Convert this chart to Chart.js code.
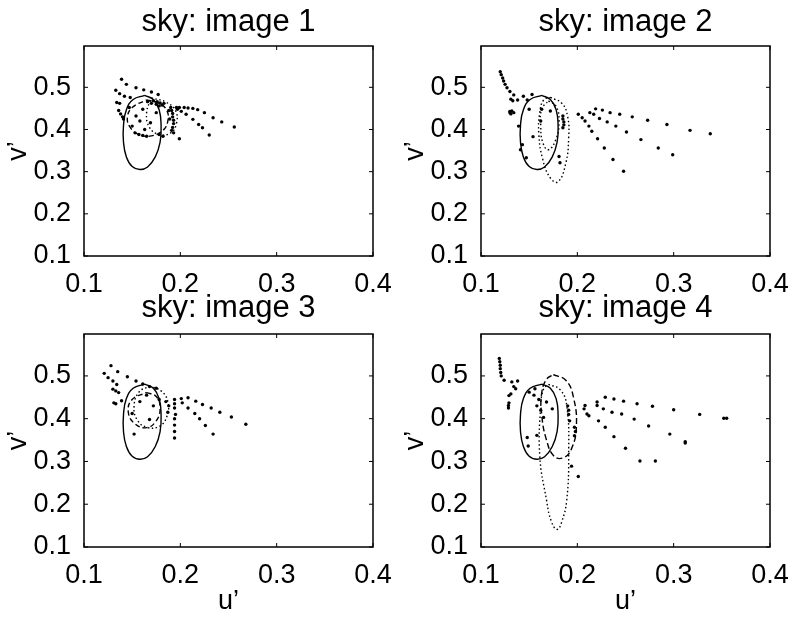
<!DOCTYPE html>
<html>
<head>
<meta charset="utf-8">
<script src="https://cdn.jsdelivr.net/npm/chart.js@4.4.1/dist/chart.umd.min.js"></script>
<style>
  body { margin: 0; background: #fff; }
  #wrap { position: relative; width: 794px; height: 618px; background: #fff; }
  canvas { position: absolute; }
</style>
</head>
<body>
<div id="wrap">
  <canvas id="c1" width="397" height="300" style="left:0;top:0;width:397px;height:300px"></canvas>
  <canvas id="c2" width="397" height="300" style="left:397px;top:0;width:397px;height:300px"></canvas>
  <canvas id="c3" width="397" height="338" style="left:0;top:280px;width:397px;height:338px"></canvas>
  <canvas id="c4" width="397" height="338" style="left:397px;top:280px;width:397px;height:338px"></canvas>
</div>
<script>
// axis ticks
const uTicks = [0.1, 0.2, 0.3, 0.4];
const vTicks = [0.1, 0.2, 0.3, 0.4, 0.5];
const titles = ['sky: image 1', 'sky: image 2', 'sky: image 3', 'sky: image 4'];

// solid locus, same in every panel  [u', v']
const refLocus = [[0.163,0.481],[0.172,0.471],[0.178,0.447],[0.180,0.410],[0.179,0.370],[0.174,0.335],
  [0.166,0.311],[0.158,0.305],[0.150,0.312],[0.144,0.335],[0.141,0.370],[0.141,0.410],[0.144,0.447],
  [0.151,0.471],[0.163,0.481]];

// image 1
const sky1Dots = [[0.139,0.519],[0.144,0.507],[0.154,0.499],[0.162,0.494],[0.170,0.489],[0.177,0.483],
  [0.133,0.493],[0.137,0.485],[0.142,0.479],[0.148,0.476],[0.134,0.464],[0.137,0.462],[0.136,0.445],
  [0.138,0.437],[0.141,0.425],[0.140,0.430],
  [0.196,0.452],[0.199,0.452],[0.204,0.452],[0.208,0.451],[0.213,0.450],[0.218,0.447],[0.225,0.440],
  [0.234,0.428],[0.243,0.418],[0.256,0.406],
  [0.197,0.448],[0.201,0.443],[0.206,0.436],[0.213,0.424],[0.219,0.412],[0.223,0.404],[0.230,0.387],
  [0.190,0.452],[0.191,0.445],[0.192,0.438],[0.192,0.430],[0.193,0.422],[0.193,0.414],[0.192,0.405],
  [0.191,0.398],[0.193,0.392],[0.188,0.445],[0.189,0.425],
  [0.172,0.468],[0.176,0.466],[0.179,0.463],[0.181,0.458],[0.178,0.456],[0.175,0.460],[0.183,0.462],
  [0.170,0.462],[0.166,0.466],
  [0.154,0.432],[0.161,0.448],[0.150,0.408],[0.169,0.416],[0.175,0.440],[0.158,0.420],[0.163,0.400],
  [0.147,0.452],[0.199,0.378],[0.182,0.384],[0.178,0.388],
  [0.153,0.392],[0.157,0.388],[0.161,0.386],[0.165,0.384]];
const sky1Dashed = [[0.165,0.470],[0.178,0.462],[0.186,0.445],[0.187,0.420],[0.182,0.398],[0.170,0.385],
  [0.157,0.388],[0.148,0.405],[0.145,0.428],[0.150,0.452],[0.165,0.470]];
const sky1Dotted = [[0.170,0.475],[0.185,0.465],[0.195,0.445],[0.196,0.415],[0.190,0.392],[0.178,0.388],
  [0.168,0.405],[0.165,0.440],[0.170,0.475]];

// image 2
const sky2Dots = [[0.120,0.537],[0.121,0.530],[0.1225,0.522],[0.1235,0.515],[0.125,0.507],[0.127,0.499],
  [0.130,0.490],[0.134,0.482],[0.131,0.472],[0.133,0.468],[0.138,0.470],[0.130,0.440],[0.131,0.437],
  [0.134,0.440],[0.144,0.479],[0.153,0.483],[0.148,0.470],
  [0.201,0.436],[0.205,0.428],[0.208,0.420],[0.212,0.408],[0.215,0.396],[0.221,0.378],[0.228,0.356],
  [0.237,0.329],[0.248,0.301],
  [0.213,0.440],[0.219,0.449],[0.226,0.446],[0.234,0.440],[0.244,0.436],[0.257,0.430],[0.273,0.422],
  [0.293,0.412],[0.317,0.398],[0.338,0.390],
  [0.217,0.436],[0.223,0.426],[0.231,0.418],[0.240,0.408],[0.251,0.394],[0.266,0.376],[0.284,0.356],
  [0.299,0.340],
  [0.143,0.364],[0.147,0.333],[0.154,0.383],[0.162,0.420],[0.163,0.448],[0.150,0.448],[0.181,0.336],
  [0.182,0.321],[0.172,0.444],[0.139,0.408],[0.141,0.352],[0.132,0.444],[0.130,0.443],
  [0.185,0.432],[0.185,0.425],[0.186,0.418],[0.186,0.411],[0.185,0.404]];
const sky2Dotted = [[0.172,0.476],[0.184,0.462],[0.190,0.430],[0.191,0.380],[0.188,0.320],[0.180,0.276],
  [0.172,0.285],[0.164,0.330],[0.160,0.390],[0.161,0.440],[0.165,0.470],[0.172,0.476]];
const sky2Inner = [[0.170,0.468],[0.178,0.455],[0.181,0.420],[0.178,0.378],[0.170,0.352],[0.164,0.370],
  [0.162,0.410],[0.163,0.448],[0.170,0.468]];

// image 3
const sky3Dots = [[0.128,0.524],[0.135,0.510],[0.145,0.498],[0.154,0.488],[0.161,0.481],[0.168,0.475],
  [0.175,0.471],[0.121,0.506],[0.125,0.496],[0.130,0.488],[0.134,0.480],[0.130,0.469],[0.133,0.465],
  [0.136,0.461],[0.131,0.437],[0.133,0.435],[0.139,0.442],
  [0.201,0.447],[0.208,0.449],[0.216,0.441],[0.223,0.433],[0.232,0.425],[0.241,0.415],[0.253,0.404],
  [0.268,0.387],
  [0.202,0.437],[0.208,0.425],[0.215,0.412],[0.220,0.400],[0.226,0.384],[0.234,0.364],
  [0.194,0.445],[0.194,0.435],[0.194,0.425],[0.195,0.410],[0.194,0.400],[0.194,0.385],[0.194,0.370],
  [0.194,0.355],
  [0.152,0.364],[0.158,0.440],[0.165,0.455],[0.172,0.430],[0.178,0.445],[0.150,0.412],[0.168,0.398],
  [0.185,0.440],[0.188,0.430],[0.187,0.415]];
const sky3Dashed = [[0.165,0.461],[0.175,0.452],[0.179,0.425],[0.175,0.395],[0.165,0.379],[0.153,0.388],
  [0.146,0.415],[0.150,0.445],[0.165,0.461]];
const sky3Dotted = [[0.168,0.476],[0.180,0.465],[0.187,0.440],[0.186,0.405],[0.178,0.382],[0.165,0.380],
  [0.155,0.398],[0.152,0.430],[0.157,0.462],[0.168,0.476]];

// image 4
const sky4Dots = [[0.119,0.541],[0.1195,0.533],[0.120,0.525],[0.120,0.517],[0.1205,0.508],[0.121,0.500],
  [0.124,0.490],[0.132,0.486],[0.138,0.488],[0.134,0.475],[0.136,0.470],
  [0.1285,0.431],[0.1285,0.425],[0.129,0.437],[0.129,0.454],[0.131,0.458],
  [0.208,0.431],[0.2205,0.439],[0.229,0.450],[0.238,0.446],[0.248,0.441],[0.262,0.435],[0.278,0.429],
  [0.300,0.421],[0.327,0.410],[0.352,0.401],[0.355,0.401],
  [0.210,0.411],[0.2205,0.431],[0.227,0.423],[0.236,0.415],[0.246,0.411],[0.259,0.399],[0.274,0.383],
  [0.296,0.364],[0.312,0.346],[0.312,0.343],
  [0.207,0.423],[0.212,0.407],[0.222,0.395],[0.229,0.380],[0.238,0.358],[0.250,0.331],[0.265,0.301],
  [0.281,0.301],[0.194,0.289],[0.201,0.265],
  [0.149,0.336],[0.148,0.356],[0.158,0.361],[0.165,0.403],[0.168,0.439],[0.174,0.423],[0.155,0.455],
  [0.160,0.445],[0.158,0.430],[0.162,0.420],[0.156,0.470],[0.150,0.462],
  [0.190,0.430],[0.191,0.420],[0.191,0.410],[0.192,0.395],[0.197,0.380],[0.198,0.370],[0.197,0.360]];
const sky4Dashed = [[0.175,0.503],[0.188,0.490],[0.196,0.450],[0.199,0.380],[0.194,0.330],[0.186,0.309],
  [0.176,0.312],[0.168,0.350],[0.163,0.410],[0.163,0.460],[0.168,0.492],[0.175,0.503]];
const sky4Dotted = [[0.170,0.480],[0.182,0.468],[0.189,0.431],[0.191,0.313],[0.189,0.210],[0.184,0.160],
  [0.179,0.141],[0.173,0.160],[0.168,0.210],[0.161,0.313],[0.162,0.430],[0.165,0.470],[0.170,0.480]];

const FONT = '"Liberation Sans", Arial, Helvetica, sans-serif';
const toXY = arr => arr.map(p => ({ x: p[0], y: p[1] }));

function curve(points, dash, width) {
  return {
    type: 'scatter', data: toXY(points), showLine: true, tension: 0.45,
    borderColor: '#000', borderWidth: width || 1.4, borderDash: dash, pointRadius: 0, fill: false
  };
}
function dots(points) {
  return {
    type: 'scatter', data: toXY(points), showLine: false,
    pointRadius: 1.7, pointBackgroundColor: '#000', pointBorderWidth: 0
  };
}

// frame box + inward ticks, MATLAB style
const boxPlugin = {
  id: 'box',
  afterDraw(chart) {
    const { ctx, chartArea: a, scales } = chart;
    ctx.save();
    ctx.strokeStyle = '#000';
    ctx.lineWidth = 1.5;
    ctx.strokeRect(a.left, a.top, a.right - a.left, a.bottom - a.top);
    ctx.lineWidth = 1;
    ctx.beginPath();
    uTicks.forEach(t => {
      const x = scales.x.getPixelForValue(t);
      ctx.moveTo(x, a.bottom); ctx.lineTo(x, a.bottom - 4);
      ctx.moveTo(x, a.top); ctx.lineTo(x, a.top + 4);
    });
    vTicks.forEach(t => {
      const y = scales.y.getPixelForValue(t);
      ctx.moveTo(a.left, y); ctx.lineTo(a.left + 4, y);
      ctx.moveTo(a.right, y); ctx.lineTo(a.right - 4, y);
    });
    ctx.stroke();
    ctx.restore();
  }
};

function makeChart(id, title, datasets, bottomRow) {
  const ctx = document.getElementById(id).getContext('2d');
  return new Chart(ctx, {
    type: 'scatter',
    data: { datasets },
    options: {
      responsive: false,
      animation: false,
      devicePixelRatio: 1,
      layout: { padding: { left: 0, right: 24, top: 0, bottom: 0 } },
      plugins: {
        legend: { display: false },
        tooltip: { enabled: false },
        title: {
          display: true, text: title, color: '#000', fullSize: false,
          font: { family: FONT, size: 31, weight: 'normal', lineHeight: 1.0 },
          padding: bottomRow ? { top: 13, bottom: 10 } : { top: 7, bottom: 8 }
        }
      },
      scales: {
        x: {
          type: 'linear', min: 0.1, max: 0.4,
          grid: { display: false }, border: { display: false },
          ticks: {
            stepSize: 0.1, color: '#000', padding: 4,
            font: { family: FONT, size: 27 },
            callback: v => v.toFixed(1)
          },
          title: {
            display: bottomRow, text: 'u’', color: '#000',
            font: { family: FONT, size: 27 }, padding: { top: 0, bottom: 0 }
          },
          afterFit: s => { s.height = bottomRow ? 71 : 44; }
        },
        y: {
          type: 'linear', min: 0.1, max: 0.598,
          grid: { display: false }, border: { display: false },
          ticks: {
            stepSize: 0.1, includeBounds: false, color: '#000', padding: 5,
            font: { family: FONT, size: 27 },
            callback: v => v.toFixed(1)
          },
          title: {
            display: true, text: 'v’', color: '#000',
            font: { family: FONT, size: 27 }, padding: { top: 2, bottom: 0 }
          },
          afterFit: s => { s.width = 84; }
        }
      }
    },
    plugins: [boxPlugin]
  });
}

makeChart('c1', titles[0], [curve(refLocus, []), curve(sky1Dashed, [5, 3]), curve(sky1Dotted, [1.5, 2.5]), dots(sky1Dots)], false);
makeChart('c2', titles[1], [curve(refLocus, []), curve(sky2Dotted, [1.5, 2.5]), curve(sky2Inner, [1.5, 2.5]), dots(sky2Dots)], false);
makeChart('c3', titles[2], [curve(refLocus, []), curve(sky3Dashed, [5, 3]), curve(sky3Dotted, [1.5, 2.5]), dots(sky3Dots)], true);
makeChart('c4', titles[3], [curve(refLocus, []), curve(sky4Dashed, [6, 3]), curve(sky4Dotted, [1.5, 2.5]), dots(sky4Dots)], true);
</script>
</body>
</html>
